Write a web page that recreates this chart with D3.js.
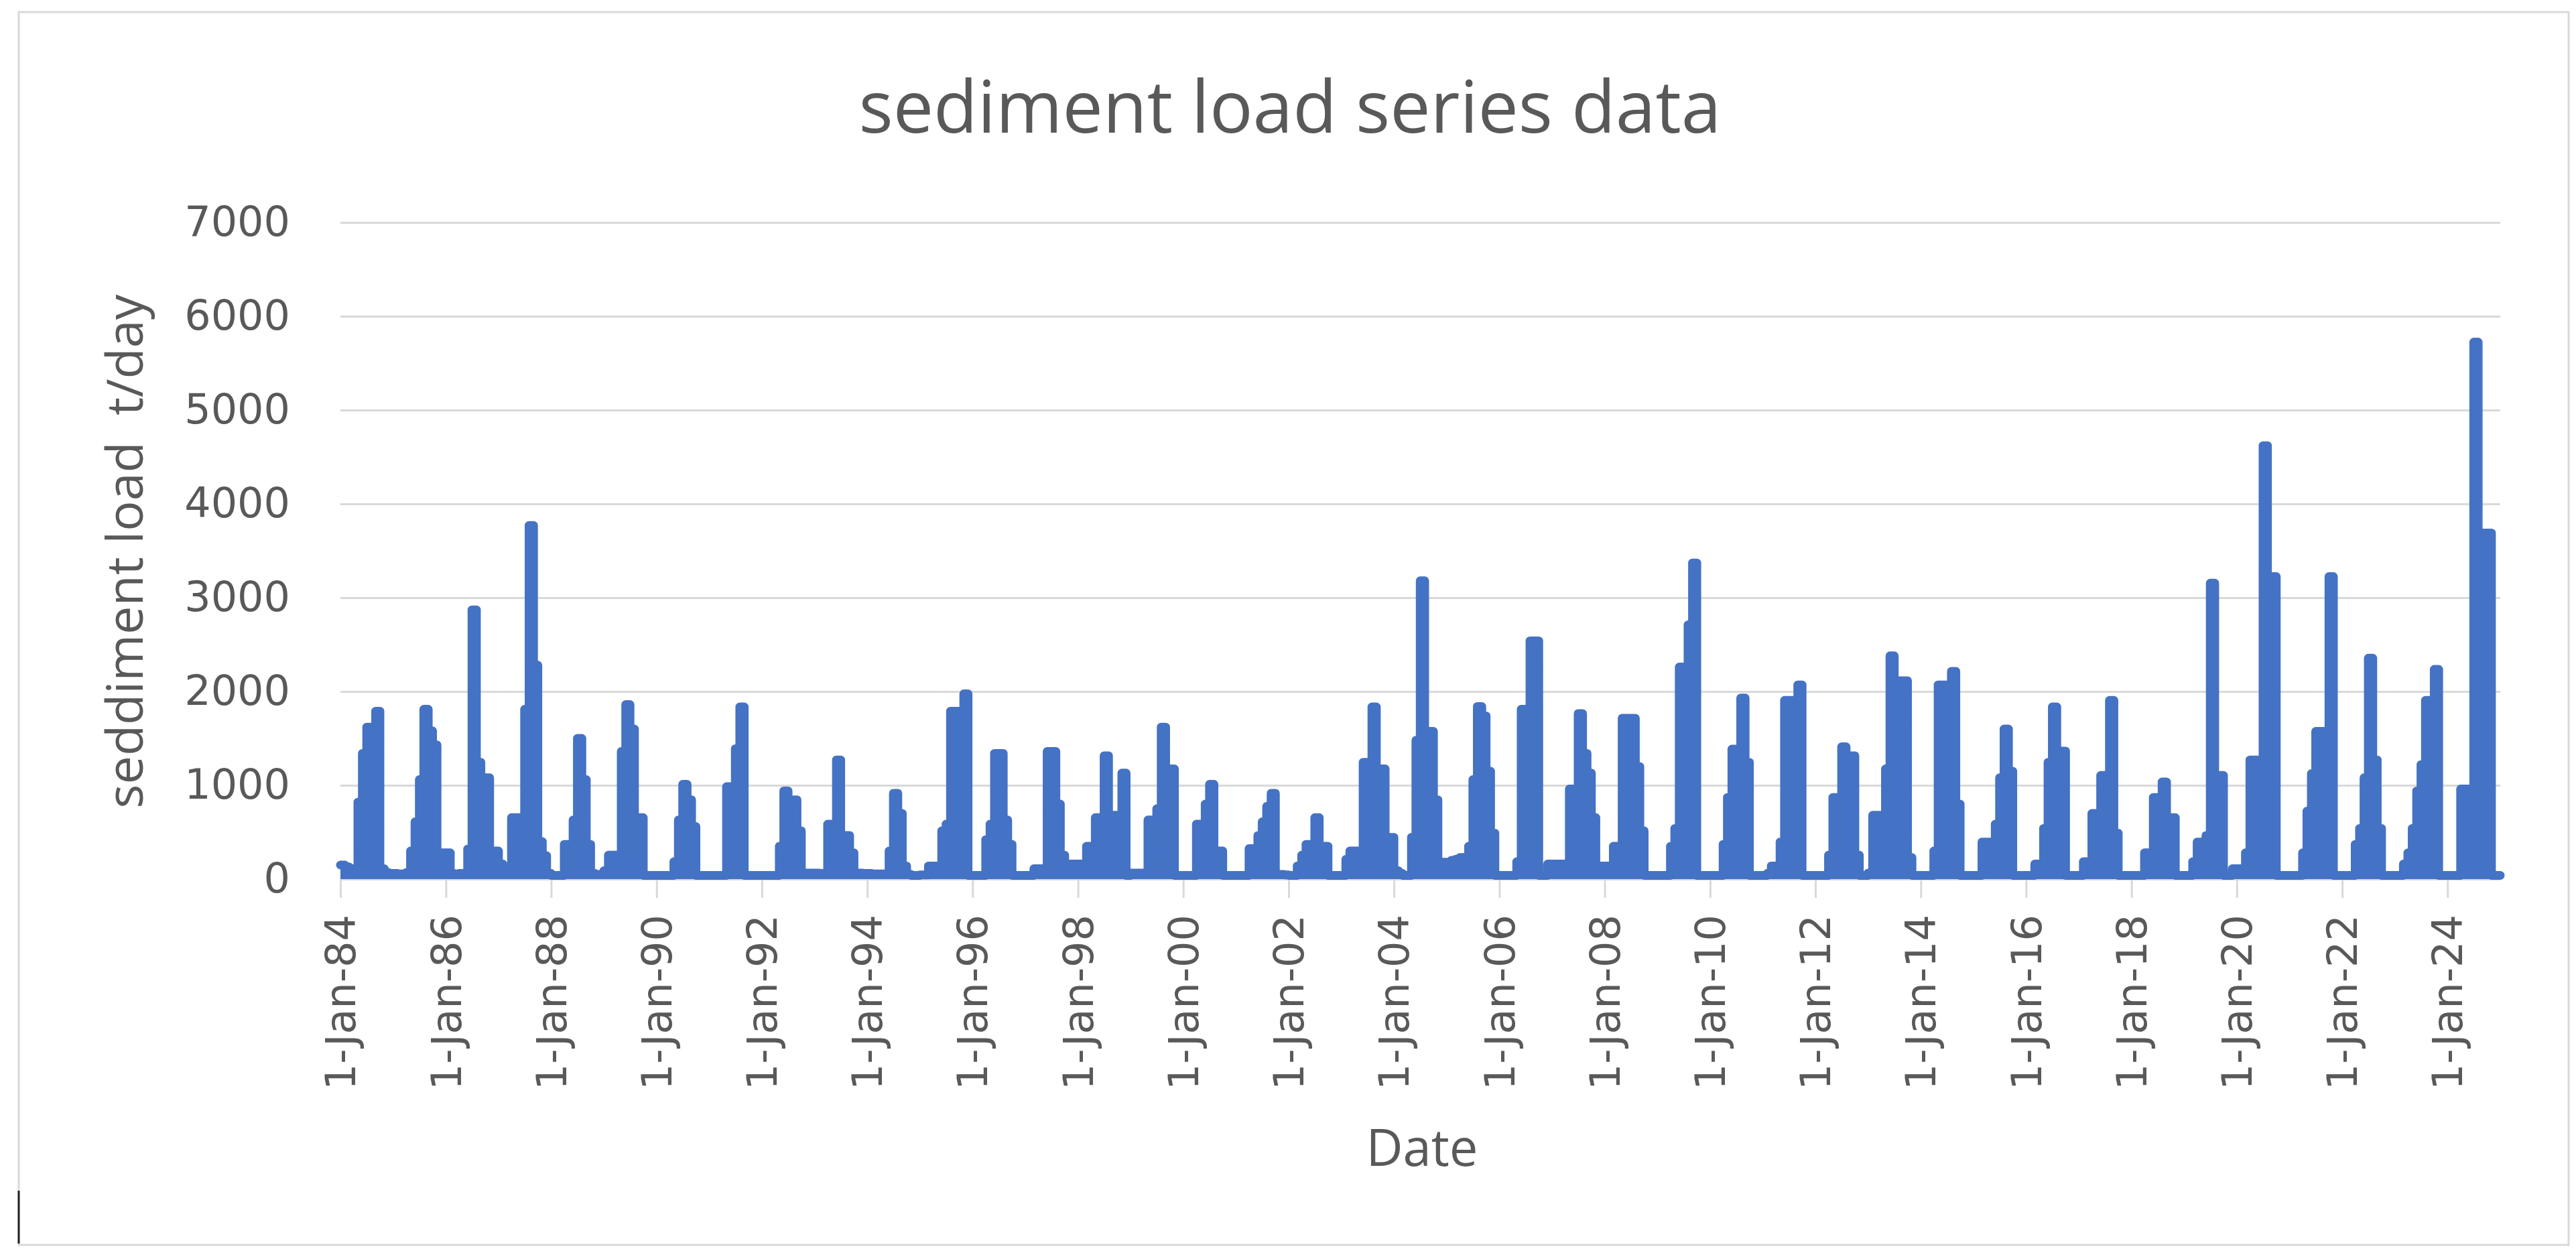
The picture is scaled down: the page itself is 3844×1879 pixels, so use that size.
<!DOCTYPE html>
<html>
<head>
<meta charset="utf-8">
<script src="https://cdn.jsdelivr.net/npm/d3@7"></script>
<style>
  html, body { margin: 0; padding: 0; background: #fff; }
  svg { display: block; }
</style>
</head>
<body>
<div id="chart"></div>
<script>
// monthly sediment load (t/day), Jan..Dec of each year
const startYear = 1984;
const load1980s = [
    150, 130, 110, 110, 820, 1340, 1620, 1620, 1790, 110, 70, 60,      // 1984
    60, 55, 55, 70, 300, 610, 1060, 1810, 1580, 1430, 280, 280,        // 1985
    280, 60, 50, 60, 60, 320, 2870, 1245, 1080, 1080, 300, 300,        // 1986
    160, 100, 80, 655, 655, 655, 1810, 3770, 2280, 400, 250, 60,       // 1987
    40, 40, 40, 370, 370, 630, 1500, 1060, 370, 60, 50, 50,            // 1988
    90, 255, 255, 255, 1360, 1860, 1600, 655, 655, 40, 40, 40          // 1989
];
const load1990s = [
    40, 40, 40, 40, 185, 630, 1010, 845, 560, 40, 40, 40,              // 1990
    40, 40, 40, 40, 985, 985, 1390, 1835, 40, 40, 40, 40,              // 1991
    40, 40, 40, 40, 350, 940, 845, 845, 515, 65, 65, 65,               // 1992
    65, 60, 60, 585, 585, 1270, 465, 465, 280, 65, 65, 60,             // 1993
    60, 55, 55, 55, 55, 300, 915, 700, 140, 50, 40, 40,                // 1994
    45, 45, 140, 140, 140, 515, 585, 1790, 1790, 1790, 1975, 40,       // 1995
    40, 40, 40, 420, 585, 1340, 1340, 630, 370, 40, 40, 40,            // 1996
    40, 40, 110, 110, 110, 1360, 1360, 800, 255, 160, 160, 160,        // 1997
    160, 160, 350, 350, 655, 655, 1315, 680, 680, 680, 1130, 40,       // 1998
    65, 65, 65, 65, 630, 630, 750, 1620, 1175, 1175, 40, 40            // 1999
];
const load2000s = [
    40, 40, 40, 585, 585, 800, 1010, 300, 300, 40, 40, 40,             // 2000
    40, 40, 40, 325, 325, 465, 610, 775, 915, 50, 50, 45,              // 2001
    40, 40, 140, 255, 370, 370, 655, 350, 350, 40, 40, 40,             // 2002
    40, 210, 300, 300, 300, 1245, 1245, 1835, 1175, 1175, 445, 445,    // 2003
    90, 60, 40, 40, 445, 1480, 3180, 1575, 1575, 845, 140, 180,        // 2004
    180, 200, 210, 230, 230, 350, 1060, 1840, 1740, 1150, 490, 40,     // 2005
    40, 40, 40, 40, 185, 1810, 1810, 2540, 2540, 40, 40, 160,          // 2006
    160, 160, 160, 160, 960, 960, 1765, 1340, 1130, 655, 140, 140,     // 2007
    140, 140, 350, 350, 1715, 1715, 1715, 1200, 515, 40, 40, 40,       // 2008
    40, 40, 40, 350, 540, 2260, 2260, 2710, 3370, 40, 40, 40           // 2009
];
const load2010s = [
    40, 40, 40, 370, 870, 1385, 1385, 1930, 1245, 40, 40, 40,          // 2010
    40, 60, 140, 140, 395, 1905, 1905, 1905, 2070, 40, 40, 40,         // 2011
    40, 40, 40, 255, 870, 870, 1410, 1315, 1315, 255, 40, 40,          // 2012
    65, 680, 680, 680, 1175, 2380, 2115, 2115, 2115, 230, 40, 40,      // 2013
    40, 40, 40, 300, 2070, 2070, 2070, 2215, 800, 40, 40, 40,          // 2014
    40, 40, 395, 395, 395, 585, 1080, 1600, 1150, 40, 40, 40,          // 2015
    40, 40, 160, 160, 540, 1245, 1835, 1365, 1365, 40, 40, 40,         // 2016
    40, 185, 185, 700, 700, 1105, 1105, 1905, 490, 40, 40, 40,         // 2017
    40, 40, 40, 280, 280, 870, 870, 1035, 655, 655, 40, 40,            // 2018
    40, 40, 185, 395, 395, 465, 3155, 1105, 1105, 40, 40, 110          // 2019
];
const load2020s = [
    110, 110, 280, 1270, 1270, 1270, 4620, 3225, 3225, 40, 40, 40,     // 2020
    40, 40, 40, 280, 725, 1125, 1575, 1575, 1575, 3225, 40, 40,        // 2021
    40, 40, 40, 370, 540, 1080, 2355, 1270, 540, 40, 40, 40,           // 2022
    40, 40, 160, 280, 540, 940, 1220, 1905, 1905, 2235, 40, 40,        // 2023
    40, 40, 40, 960, 960, 960, 5725, 3690, 3690, 3690, 40, 40          // 2024
];

const yTicks = [0, 1000, 2000, 3000, 4000, 5000, 6000, 7000];
const xTickYears = d3.range(1984, 2025, 2);

const chartTitle = "sediment load series data";
const yTitle = "seddiment load  t/day";
const xTitle = "Date";

const width = 3844, height = 1879;
const plot = { left: 508, right: 3731, top: 332, bottom: 1312 };
const textColor = "#595959", gridColor = "#d9d9d9", blue = "#4472C4";

const svg = d3.select("#chart")
    .append("svg")
    .attr("width", width)
    .attr("height", height);

// chart frame
svg.append("rect")
    .attr("x", 28).attr("y", 18)
    .attr("width", 3805).attr("height", 1840)
    .attr("fill", "#fff")
    .attr("stroke", gridColor)
    .attr("stroke-width", 3);

const series = [].concat(load1980s, load1990s, load2000s, load2010s, load2020s);
const data = series.map((v, i) => ({ date: new Date(startYear, i, 1), value: v }));
// closing point so the last month keeps its width
data.push({ date: new Date(startYear, series.length, 1), value: series[series.length - 1] });

const x = d3.scaleTime()
    .domain([new Date(1984, 0, 1), new Date(2025, 0, 1)])
    .range([plot.left, plot.right]);

const y = d3.scaleLinear()
    .domain([0, 7000])
    .range([plot.bottom, plot.top]);

// horizontal gridlines
svg.append("g")
    .attr("transform", `translate(${plot.left},0)`)
    .call(d3.axisLeft(y).tickValues(yTicks).tickSize(-(plot.right - plot.left)).tickFormat(""))
    .call(g => g.select(".domain").remove())
    .call(g => g.selectAll("line").attr("stroke", gridColor).attr("stroke-width", 3));

// Y axis labels
svg.append("g")
    .attr("transform", `translate(${plot.left},0)`)
    .call(d3.axisLeft(y).tickValues(yTicks).tickSize(0).tickPadding(75).tickFormat(d3.format("d")))
    .call(g => g.select(".domain").remove())
    .attr("font-family", "'DejaVu Sans', Verdana, sans-serif")
    .attr("font-size", 62)
    .attr("color", textColor);

// X axis
svg.append("g")
    .attr("transform", `translate(0,${plot.bottom})`)
    .call(d3.axisBottom(x)
        .tickValues(xTickYears.map(yr => new Date(yr, 0, 1)))
        .tickSize(28)
        .tickSizeOuter(0)
        .tickFormat(d3.timeFormat("%-d-%b-%y")))
    .attr("font-family", "'DejaVu Sans', Verdana, sans-serif")
    .attr("font-size", 62)
    .attr("color", textColor)
    .call(g => g.select(".domain").attr("stroke", gridColor).attr("stroke-width", 3))
    .call(g => g.selectAll(".tick line").attr("stroke", gridColor).attr("stroke-width", 3))
    .call(g => g.selectAll(".tick text")
        .attr("transform", "rotate(-90)")
        .attr("text-anchor", "end")
        .attr("x", -53)
        .attr("y", 0)
        .attr("dy", "0.35em"));

// the series: filled steps with a thick outline
const area = d3.area()
    .curve(d3.curveStepAfter)
    .x(d => x(d.date))
    .y0(y(0))
    .y1(d => y(d.value));

const line = d3.line()
    .curve(d3.curveStepAfter)
    .x(d => x(d.date))
    .y(d => y(d.value));

svg.append("path")
    .datum(data)
    .attr("d", area)
    .attr("fill", blue);

svg.append("path")
    .datum(data)
    .attr("d", line)
    .attr("fill", "none")
    .attr("stroke", blue)
    .attr("stroke-width", 13)
    .attr("stroke-linejoin", "round")
    .attr("stroke-linecap", "round");

// stretch a text to a measured width
function fitText(sel, target) {
    const len = sel.node().getComputedTextLength();
    const fs = parseFloat(sel.attr("font-size"));
    sel.attr("font-size", fs * target / len);
}

const titleText = svg.append("text")
    .attr("x", 1925).attr("y", 198)
    .attr("text-anchor", "middle")
    .attr("font-family", "'Open Sans', sans-serif")
    .attr("font-size", 107)
    .attr("fill", textColor)
    .text(chartTitle);
fitText(titleText, 1287);

const yTitleText = svg.append("text")
    .attr("transform", "translate(213,823) rotate(-90)")
    .attr("text-anchor", "middle")
    .attr("font-family", "'Open Sans', sans-serif")
    .attr("font-size", 75)
    .attr("fill", textColor)
    .attr("xml:space", "preserve")
    .style("white-space", "pre")
    .text(yTitle);
fitText(yTitleText, 767);

const xTitleText = svg.append("text")
    .attr("x", 2122).attr("y", 1740)
    .attr("text-anchor", "middle")
    .attr("font-family", "'Open Sans', sans-serif")
    .attr("font-size", 75)
    .attr("fill", textColor)
    .text(xTitle);
fitText(xTitleText, 167);

// stray cursor mark at the bottom left of the screenshot
svg.append("line")
    .attr("x1", 28).attr("x2", 28)
    .attr("y1", 1777).attr("y2", 1856)
    .attr("stroke", "#222")
    .attr("stroke-width", 3);
</script>
</body>
</html>
